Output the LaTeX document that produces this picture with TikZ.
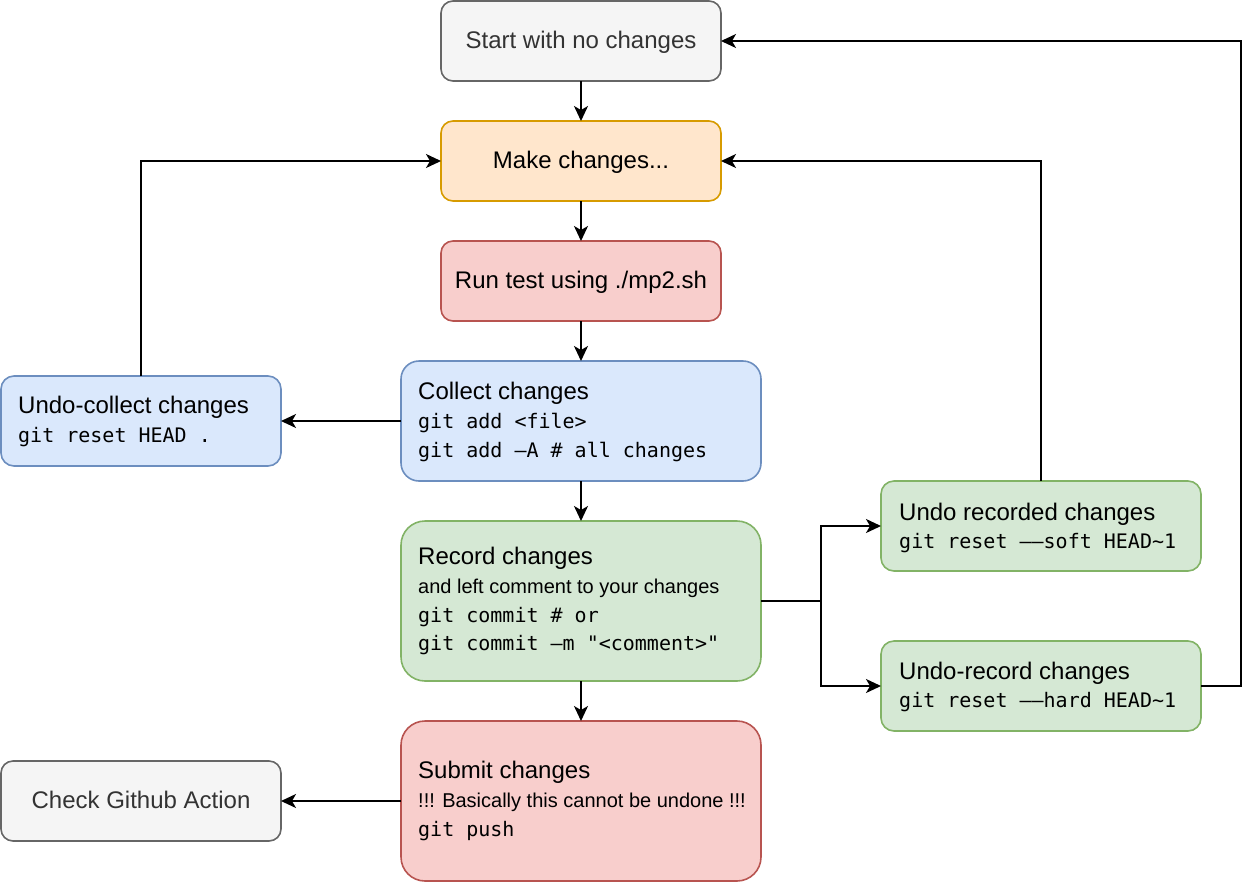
\documentclass[tikz,border=0pt]{standalone}
\usepackage{fontspec}
\setmainfont{Liberation Sans}
\setmonofont{DejaVu Sans Mono}
\usetikzlibrary{arrows.meta}
\definecolor{grayfill}{HTML}{F5F5F5}
\definecolor{grayline}{HTML}{666666}
\definecolor{graytext}{HTML}{333333}
\definecolor{orfill}{HTML}{FFE6CC}
\definecolor{orline}{HTML}{D79B00}
\definecolor{redfill}{HTML}{F8CECC}
\definecolor{redline}{HTML}{B85450}
\definecolor{bluefill}{HTML}{DAE8FC}
\definecolor{blueline}{HTML}{6C8EBF}
\definecolor{grfill}{HTML}{D5E8D4}
\definecolor{grline}{HTML}{82B366}
\tikzset{
  boxbase/.style={line width=1.6pt, inner sep=0pt, outer sep=0pt},
  graybox/.style={boxbase, draw=grayline, fill=grayfill},
  orbox/.style={boxbase, draw=orline, fill=orfill},
  redbox/.style={boxbase, draw=redline, fill=redfill},
  bluebox/.style={boxbase, draw=blueline, fill=bluefill},
  grbox/.style={boxbase, draw=grline, fill=grfill},
  arr/.style={line width=1.6pt, -{Stealth[length=15pt,width=14pt,inset=4pt]}},
  conn/.style={line width=1.6pt},
  ttl/.style={font=\fontsize{24}{29}\selectfont, anchor=base west, inner sep=0pt},
  ttlc/.style={font=\fontsize{24}{29}\selectfont, anchor=base, inner sep=0pt},
  sml/.style={font=\fontsize{20}{24}\selectfont, anchor=base west, inner sep=0pt},
  code/.style={font=\fontsize{20}{24}\selectfont\ttfamily, anchor=base west, inner sep=0pt},
}
\begin{document}
\begin{tikzpicture}[x=1pt,y=-1pt]
\useasboundingbox (0,0) rectangle (1258,884);
% boxes
\node[graybox, minimum width=280pt, minimum height=80pt, rounded corners=12pt] (start) at (581,41) {};
\node[orbox, minimum width=280pt, minimum height=80pt, rounded corners=12pt] (make) at (581,161) {};
\node[redbox, minimum width=280pt, minimum height=80pt, rounded corners=12pt] (run) at (581,281) {};
\node[bluebox, minimum width=360pt, minimum height=120pt, rounded corners=18pt] (collect) at (581,421) {};
\node[bluebox, minimum width=280pt, minimum height=90pt, rounded corners=13pt] (ucollect) at (141,421) {};
\node[grbox, minimum width=360pt, minimum height=160pt, rounded corners=24pt] (record) at (581,601) {};
\node[grbox, minimum width=320pt, minimum height=90pt, rounded corners=13pt] (urec) at (1041,526) {};
\node[grbox, minimum width=320pt, minimum height=90pt, rounded corners=13pt] (urecb) at (1041,686) {};
\node[redbox, minimum width=360pt, minimum height=160pt, rounded corners=24pt] (submit) at (581,801) {};
\node[graybox, minimum width=280pt, minimum height=80pt, rounded corners=12pt] (check) at (141,801) {};
% texts
\node[ttlc, text=graytext] (startt) at (581,48.5) {Start with no changes};
\node[ttlc] (maket) at (581,168) {Make changes...};
\node[ttlc] (runt) at (581,288) {Run test using ./mp2.sh};
\node[ttlc, text=graytext] (checkt) at (141,808.5) {Check Github Action};

\node[ttl] (collt) at (418,399.5) {Collect changes};
\node[code] (collc1) at (418,428.5) {git add <file>};
\node[code] (collc2) at (418,457) {git add –A \# all changes};

\node[ttl] (ucollt) at (18,413.5) {Undo-collect changes};
\node[code] (ucollc) at (18,442) {git reset HEAD .};

\node[ttl] (rect) at (418,564.5) {Record changes};
\node[sml] (recs) at (418,593.5) {and left comment to your changes};
\node[code] (recc1) at (418,622) {git commit \# or};
\node[code] (recc2) at (418,650.5) {git commit –m "<comment>"};

\node[ttl] (urect) at (899,520) {Undo recorded changes};
\node[code] (urecc) at (899,548) {git reset ––soft HEAD\char`~1};

\node[ttl] (urecbt) at (899,679.5) {Undo-record changes};
\node[code] (urecbc) at (899,707.5) {git reset ––hard HEAD\char`~1};

\node[ttl] (subt) at (418,778.5) {Submit changes};
\node[sml] (subs) at (418,807.5) {!!! Basically this cannot be undone !!!};
\node[code] (subc) at (418,836.5) {git push};
% connectors
\coordinate (split) at (821,601);
\coordinate (rt) at (1241,686);
\draw[arr] (start) -- (make);
\draw[arr] (make) -- (run);
\draw[arr] (run) -- (collect);
\draw[arr] (collect) -- (record);
\draw[arr] (record) -- (submit);
\draw[arr] (collect.west) -- (ucollect.east);
\draw[arr] (ucollect.north) |- (make.west);
\draw[conn] (record.east) -- (split);
\draw[arr] (split) |- (urec.west);
\draw[arr] (split) |- (urecb.west);
\draw[arr] (urec.north) |- (make.east);
\draw[arr] (urecb.east) -- (rt) |- (start.east);
\draw[arr] (submit.west) -- (check.east);
\end{tikzpicture}
\end{document}
